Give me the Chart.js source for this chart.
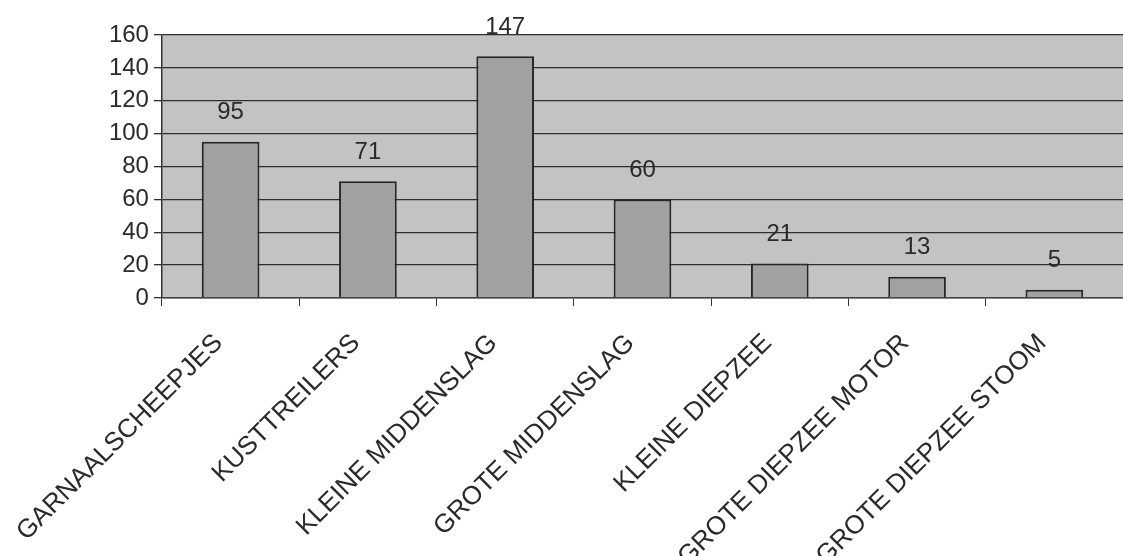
<!DOCTYPE html>
<html>
<head>
<meta charset="utf-8">
<script src="https://cdn.jsdelivr.net/npm/chart.js@4"></script>
<style>
    html, body { margin: 0; padding: 0; background: #fff; }
    #wrap { width: 1123px; height: 556px; }
</style>
</head>
<body>
<div id="wrap"><canvas id="fleetChart"></canvas></div>
<script>
// categories and values
const categories = [
    'GARNAALSCHEEPJES',
    'KUSTTREILERS',
    'KLEINE MIDDENSLAG',
    'GROTE MIDDENSLAG',
    'KLEINE DIEPZEE',
    'GROTE DIEPZEE MOTOR',
    'GROTE DIEPZEE STOOM'
];
const counts = [95, 71, 147, 60, 21, 13, 5];
const yTicks = [0, 20, 40, 60, 80, 100, 120, 140, 160];

const textColor = '#2a2a2a';
const fontFamily = '"Liberation Sans", Arial, sans-serif';

// grey plot background
const plotBackground = {
    id: 'plotBackground',
    beforeDraw(chart) {
        const { ctx, chartArea: a } = chart;
        ctx.save();
        ctx.fillStyle = '#c3c3c3';
        ctx.fillRect(a.left, a.top, a.right - a.left, a.bottom - a.top);
        ctx.restore();
    }
};

// value labels above the bars
const valueLabels = {
    id: 'valueLabels',
    afterDatasetsDraw(chart) {
        const { ctx } = chart;
        const meta = chart.getDatasetMeta(0);
        ctx.save();
        ctx.fillStyle = textColor;
        ctx.font = '24px ' + fontFamily;
        ctx.textAlign = 'center';
        ctx.textBaseline = 'middle';
        meta.data.forEach((bar, i) => {
            ctx.fillText(String(counts[i]), bar.x, bar.y - 29);
        });
        ctx.restore();
    }
};

new Chart(document.getElementById('fleetChart'), {
    type: 'bar',
    data: {
        labels: categories,
        datasets: [{
            data: counts,
            backgroundColor: '#a1a1a1',
            borderColor: '#262626',
            borderWidth: 2,
            barPercentage: 0.42,
            categoryPercentage: 1
        }]
    },
    options: {
        responsive: true,
        maintainAspectRatio: false,
        animation: false,
        layout: { padding: { top: 35, right: 0, left: 0, bottom: 0 } },
        plugins: {
            legend: { display: false },
            tooltip: { enabled: false }
        },
        scales: {
            x: {
                offset: true,
                grid: {
                    offset: true,
                    drawOnChartArea: false,
                    tickLength: 8,
                    color: '#333'
                },
                border: { color: '#444', width: 1.5 },
                ticks: {
                    color: textColor,
                    font: { family: fontFamily, size: 26 },
                    minRotation: 45,
                    maxRotation: 45,
                    autoSkip: false,
                    padding: 22,
                    labelOffset: -12
                },
                afterFit(scale) { scale.height = 258; }
            },
            y: {
                min: 0,
                max: 160,
                afterBuildTicks(scale) {
                    scale.ticks = yTicks.map(v => ({ value: v }));
                },
                grid: {
                    color: '#2e2e2e',
                    lineWidth: 1.3,
                    tickLength: 8
                },
                border: { color: '#333', width: 1.5 },
                ticks: {
                    color: textColor,
                    font: { family: fontFamily, size: 24 },
                    padding: 5
                },
                afterFit(scale) { scale.width = 160; }
            }
        }
    },
    plugins: [plotBackground, valueLabels]
});
</script>
</body>
</html>
